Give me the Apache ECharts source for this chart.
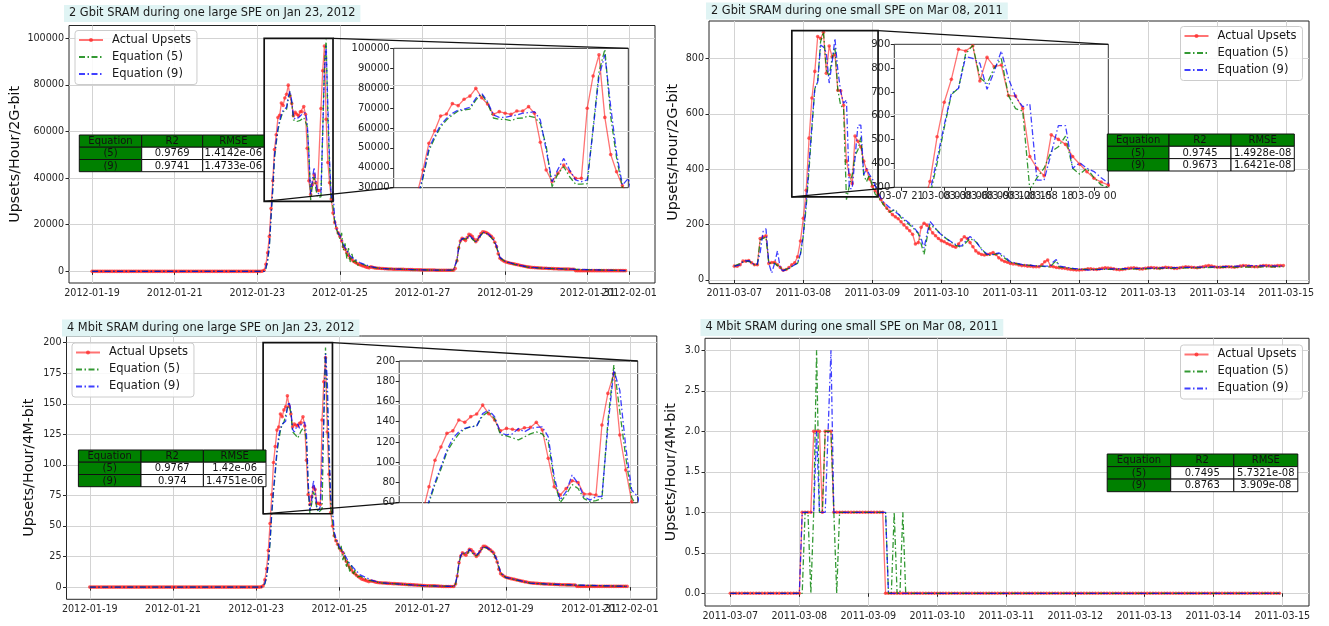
<!DOCTYPE html>
<html>
<head>
<meta charset="utf-8">
<script src="https://cdn.jsdelivr.net/npm/echarts@6/dist/echarts.min.js"></script>
<style>
html, body { margin: 0; padding: 0; background: #fff; }
#main { width: 1329px; height: 626px; }
</style>
</head>
<body>
<div id="main"></div>
<script>
// ---------------- data (hourly readings) ----------------
const janStart = '2012-01-19T00:00';
const marStart = '2011-03-07T00:00';

const janTicks = ['2012-01-19', '2012-01-21', '2012-01-23', '2012-01-25', '2012-01-27', '2012-01-29', '2012-01-31', '2012-02-01'];
const marTicks = ['2011-03-07', '2011-03-08', '2011-03-09', '2011-03-10', '2011-03-11', '2011-03-12', '2011-03-13', '2011-03-14', '2011-03-15'];
const marZoomTicks = ['2011-03-07T21:00', '2011-03-08T00:00', '2011-03-08T03:00', '2011-03-08T06:00', '2011-03-08T09:00',
  '2011-03-08T12:00', '2011-03-08T15:00', '2011-03-08T18:00', '2011-03-08T21:00', '2011-03-09T00:00'];
const gbitJanYTicks = [0, 20000, 40000, 60000, 80000, 100000];
const mbitJanYTicks = [0, 25, 50, 75, 100, 125, 150, 175, 200];
const gbitMarYTicks = [0, 200, 400, 600, 800];
const mbitMarYTicks = [0, 0.5, 1, 1.5, 2, 2.5, 3];

// 2 Gbit, Jan 2012 (one value per hour from 01-19 00:00)
const gbitJanActual = [
  0,0,0,0,0,0,0,0,0,0,0,0,0,0,0,0,0,0,0,0,0,0,0,0,
  0,0,0,0,0,0,0,0,0,0,0,0,0,0,0,0,0,0,0,0,0,0,0,0,
  0,0,0,0,0,0,0,0,0,0,0,0,0,0,0,0,0,0,0,0,0,0,0,0,
  0,0,0,0,0,0,0,0,0,0,0,0,0,0,0,0,0,0,0,0,0,0,0,0,
  0,0,0,100,500,3000,8000,15000,27000,38900,52300,58600,66000,67000,72200,71200,74400,76000,79900,75200,72000,66800,68200,67400,
  66800,68500,68500,70700,67400,52800,38900,33000,37200,41400,38000,34700,34700,69900,86100,96700,65300,46700,38000,31000,25000,21000,18500,16500,
  15000,13000,10600,9500,8000,6800,5600,5000,4300,3800,3400,3000,2700,2400,2200,1900,1700,1500,1900,1700,1500,1400,1300,1300,
  1200,1200,1100,1100,1000,1000,1000,900,900,900,900,900,850,850,800,800,800,750,750,700,700,700,650,650,
  600,600,600,550,550,550,550,550,500,500,500,500,500,500,500,500,500,500,500,1200,4500,10000,13000,14200,
  13800,13200,14500,15900,15600,14900,13800,12700,13600,14900,16200,17000,16900,16700,16200,15600,15000,14200,12500,10600,7500,5600,5000,4500,
  4100,3900,3700,3500,3400,3200,3000,2900,2700,2500,2400,2200,2100,1900,1800,1700,1650,1600,1550,1500,1450,1400,1350,1300,
  1300,1250,1200,1200,1150,1100,1100,1050,1000,1000,1000,950,950,950,900,900,900,300,300,300,300,300,300,300,
  300,300,300,300,300,300,300,300,300,300,300,300,300,300,300,300,300,300,300,300,300,300,300
];
// [hour from start, value]
const gbitJanEq5 = [[0,0],[100,0],[101,1200],[102,4500],[103,10500],[104,23000],[105,35000],[106,48500],[107,55000],[108,60500],[109,64000],[110,66500],[111,68500],[112,69000],[113,69500],[114,74000],[115,77000],[116,72500],[117,65000],[118,64300],[119,64300],[120,63700],[121,64800],[122,65000],[123,66000],[124,65300],[125,62300],[126,51000],[127,30500],[128,37000],[129,40500],[130,35500],[131,31800],[132,31800],[133,32000],[134,60000],[135,88000],[136,99500],[137,65700],[138,45000],[139,30000],[140,28000],[141,21000],[142,18000],[143,16000],[144,14000],[145,16500],[146,9000],[147,12000],[148,5500],[149,10000],[150,4000],[151,7500],[152,3500],[153,5000],[154,2500],[156,3400],[162,1800],[168,1200],[192,600],[210,500],[211,1000],[212,4500],[213,9500],[214,12800],[215,13800],[216,13200],[218,14000],[219,15200],[221,13800],[223,12500],[225,14500],[227,16500],[229,16300],[231,15200],[233,13600],[235,10500],[237,5800],[240,4200],[246,2900],[254,1700],[264,1250],[280,850],[281,300],[310,300]];
const gbitJanEq9 = [[0,0],[100,0],[101,1500],[102,5000],[103,11000],[104,24000],[105,36000],[106,49800],[107,56000],[108,61500],[109,64800],[110,67400],[111,69000],[112,69400],[113,70400],[114,74900],[115,77400],[116,73200],[117,66500],[118,65300],[119,65300],[120,66000],[121,66500],[122,67400],[123,67700],[124,68200],[125,64000],[126,48900],[127,33000],[128,39200],[129,44700],[130,38900],[131,33900],[132,33000],[133,33900],[134,59000],[135,85800],[136,96700],[137,70700],[138,47300],[139,31300],[140,34700],[141,22000],[142,18500],[143,16500],[144,15500],[146,11500],[150,6500],[156,3600],[162,2000],[168,1200],[192,600],[210,500],[211,1200],[212,5000],[213,10000],[214,13000],[215,14000],[216,13500],[218,14300],[219,15500],[221,14200],[223,12800],[225,14800],[227,16800],[229,16500],[231,15500],[233,14000],[235,11000],[237,6000],[240,4300],[246,3000],[254,1800],[264,1300],[280,900],[281,300],[310,300]];

// 4 Mbit, Jan 2012
const mbitJanActual = [
  0,0,0,0,0,0,0,0,0,0,0,0,0,0,0,0,0,0,0,0,0,0,0,0,
  0,0,0,0,0,0,0,0,0,0,0,0,0,0,0,0,0,0,0,0,0,0,0,0,
  0,0,0,0,0,0,0,0,0,0,0,0,0,0,0,0,0,0,0,0,0,0,0,0,
  0,0,0,0,0,0,0,0,0,0,0,0,0,0,0,0,0,0,0,0,0,0,0,0,
  0,0,0,0.2,1,6,15,30,52,75.8,102,115,128.5,131,141.7,139.4,145,147.6,156.5,148,141.7,131,133.4,132.5,
  131.8,134,134.4,139.4,131.8,103.8,75.8,67.6,74,81.7,79.8,68.6,68.6,67.6,136.7,168,187.8,126.9,92.3,61,50,42,38,35,
  32,30,28,24,21,18,16,14,12,11,9.5,8.5,7.5,6.5,6,5.5,5,4.5,5,4.8,4.5,4,3.8,3.6,
  3.5,3.4,3.3,3.2,3,3,2.9,2.8,2.8,2.7,2.6,2.5,2.4,2.3,2.2,2.1,2,2,1.9,1.8,1.7,1.6,1.5,1.4,
  1.3,1.2,1.1,1.1,1,1,1,1,0.9,0.8,0.7,0.6,0.5,0.5,0.5,0.5,0.5,0.5,0.5,2.5,9,20,25.5,28,
  27,26,28.5,31,30.5,29,27,25,26.5,29,31.5,33.3,33.4,32.6,31.5,30.5,29.3,27.8,24.5,20.5,14.5,11,9.8,8.8,
  8,7.6,7.2,6.9,6.6,6.3,5.9,5.6,5.3,4.9,4.7,4.3,4.1,3.7,3.5,3.3,3.2,3.1,3,2.9,2.8,2.7,2.6,2.5,
  2.5,2.4,2.3,2.3,2.2,2.1,2.1,2,1.9,1.9,1.9,1.8,1.8,1.8,1.7,1.7,1.7,0.6,0.6,0.6,0.6,0.6,0.6,0.6,
  0.6,0.6,0.6,0.6,0.6,0.6,0.6,0.6,0.6,0.6,0.6,0.6,0.6,0.6,0.6,0.6,0.6,0.6,0.6,0.6,0.6,0.6,0.6
];
const mbitJanEq5 = [[0,0],[99,0],[100,0.4],[101,2.5],[102,8],[103,19],[104,36],[105,60],[106,78],[107,93],[108,110],[109,120],[110,128],[111,133],[112,135],[113,136],[114,146],[115,150],[116,143],[117,127],[118,126],[119,124],[120,122],[121,125],[122,128],[123,130],[124,128],[125,120],[126,82],[127,60],[128,68],[129,78],[130,74],[131,64],[132,61],[133,62],[134,64],[135,140],[136,196],[137,150],[138,105],[139,65],[140,55],[141,42],[142,38],[143,36],[144,30],[145,34],[146,22],[147,28],[148,16],[149,22],[150,12],[151,18],[152,10],[153,14],[154,8],[156,9],[160,6],[168,3.4],[192,1.2],[210,0.5],[211,2.5],[212,9],[213,19],[214,25.5],[215,27.5],[216,27],[218,27.5],[219,30.5],[221,27.5],[223,25.5],[225,28.5],[227,32.5],[229,32],[231,30],[233,27.5],[235,21],[237,11.5],[240,7.8],[246,5.8],[254,3.2],[264,2.4],[280,1.6],[281,0.6],[310,0.6]];
const mbitJanEq9 = [[0,0],[99,0],[100,0.5],[101,3],[102,9],[103,20],[104,38],[105,62],[106,80],[107,95.6],[108,112],[109,123.6],[110,130],[111,133.4],[112,135],[113,135.8],[114,148],[115,151.6],[116,145],[117,129],[118,127],[119,128],[120,133.4],[121,130],[122,133.4],[123,134.4],[124,135],[125,125],[126,85.7],[127,62.6],[128,70.9],[129,87.3],[130,79],[131,66],[132,62.6],[133,66],[134,66],[135,135],[136,191],[137,171],[138,115],[139,72.5],[140,66],[141,45],[142,40],[143,37],[144,33],[146,29],[150,19],[156,10],[162,6],[168,3.5],[192,1.2],[210,0.5],[211,3],[212,10],[213,20],[214,26],[215,28],[216,27.5],[218,28],[219,31],[221,28],[223,26],[225,29],[227,33],[229,32.5],[231,30.5],[233,28],[235,22],[237,12],[240,8],[246,6],[254,3.3],[264,2.5],[280,1.7],[281,0.6],[310,0.6]];

// 2 Gbit, Mar 2011 (one value per hour from 03-07 00:00)
const gbitMarActual = [
  50,50,55,68,68,70,62,55,55,150,155,160,60,63,64,55,45,35,38,45,55,62,84,141,
  223,324,512,657,753,879,872,894,746,845,806,813,685,683,631,429,380,348,520,501,480,429,397,365,
  338,322,310,290,275,260,248,236,228,221,210,199,188,178,165,130,135,190,205,198,185,170,160,150,
  142,138,132,127,122,118,130,145,156,150,135,120,105,97,92,90,92,95,99,92,80,72,67,64,
  60,58,58,54,52,52,50,50,48,48,48,55,66,72,50,48,45,44,43,42,40,38,37,36,
  36,37,38,40,40,39,38,40,42,44,43,42,40,38,37,38,40,42,43,44,42,40,40,42,
  44,45,44,43,42,44,46,45,44,42,42,44,46,48,47,46,45,44,46,48,50,52,50,48,
  46,46,47,48,48,47,46,48,50,52,51,50,49,48,48,50,52,52,51,50,50,52,52,52
];
const gbitMarEq5 = [[0,50],[3,65],[5,68],[7,55],[8,55],[9,145],[10,150],[11,155],[12,60],[13,62],[14,60],[16,45],[17,35],[19,42],[21,55],[22,60],[23,92],[24,160],[25,265],[26,400],[27,550],[28,690],[29,715],[30,860],[31,895],[32,760],[33,735],[34,800],[35,840],[36,685],[37,630],[38,620],[39,290],[40,340],[41,380],[42,450],[43,470],[44,515],[45,380],[46,355],[47,380],[48,340],[49,310],[50,300],[52,270],[54,245],[56,255],[58,225],[62,190],[64,168],[65,130],[66,92],[67,150],[68,200],[70,185],[73,155],[77,125],[79,118],[82,150],[84,138],[88,88],[92,95],[96,64],[100,55],[110,47],[111,60],[112,70],[113,47],[120,38],[130,38],[150,42],[170,46],[191,48]];
const gbitMarEq9 = [[0,50],[2,55],[3,68],[5,70],[7,55],[8,58],[9,100],[10,175],[11,185],[12,60],[13,25],[14,60],[15,105],[16,40],[17,33],[19,42],[21,55],[22,62],[23,95],[24,165],[25,280],[26,420],[27,561],[28,694],[29,715],[30,848],[31,841],[32,820],[33,711],[34,785],[35,872],[36,757],[37,680],[38,638],[39,650],[40,330],[41,330],[42,443],[43,559],[44,559],[45,380],[46,403],[47,380],[48,366],[49,340],[50,317],[51,295],[52,280],[54,262],[58,230],[62,195],[64,170],[65,150],[66,115],[67,165],[68,212],[69,200],[71,172],[74,148],[77,128],[79,122],[80,135],[82,157],[84,140],[86,110],[88,93],[90,92],[92,98],[94,85],[96,66],[100,56],[106,50],[110,50],[111,66],[112,74],[113,50],[118,42],[123,36],[130,40],[140,42],[150,44],[160,46],[170,48],[180,52],[191,50]];

// 4 Mbit, Mar 2011
const mbitMarActual = [
  0,0,0,0,0,0,0,0,0,0,0,0,0,0,0,0,0,0,0,0,0,0,0,0,
  0,1,1,1,1,2,2,2,1,2,2,2,1,1,1,1,1,1,1,1,1,1,1,1,
  1,1,1,1,1,1,0,0,0,0,0,0,0,0,0,0,0,0,0,0,0,0,0,0,
  0,0,0,0,0,0,0,0,0,0,0,0,0,0,0,0,0,0,0,0,0,0,0,0,
  0,0,0,0,0,0,0,0,0,0,0,0,0,0,0,0,0,0,0,0,0,0,0,0,
  0,0,0,0,0,0,0,0,0,0,0,0,0,0,0,0,0,0,0,0,0,0,0,0,
  0,0,0,0,0,0,0,0,0,0,0,0,0,0,0,0,0,0,0,0,0,0,0,0,
  0,0,0,0,0,0,0,0,0,0,0,0,0,0,0,0,0,0,0,0,0,0,0,0
];
const mbitMarEq5 = [[0,0],[25,0],[26,1],[27,1],[28,0],[29,1],[30,3],[31,1],[32,1],[33,2],[34,2],[35,2],[36,1],[37,0],[38,1],[53,1],[54,1],[55,0],[56,0],[57,1],[58,0],[59,0],[60,1],[61,0],[191,0]];
const mbitMarEq9 = [[0,0],[24,0],[25,1],[29,1],[30,2],[31,1],[33,1],[34,2],[35,3],[36,1],[54,1],[55,0],[191,0]];

// fit tables
const fitHeader = ['Equation', 'R2', 'RMSE'];
const gbitJanFit = [['(5)', '0.9769', '1.4142e-06'], ['(9)', '0.9741', '1.4733e-06']];
const gbitMarFit = [['(5)', '0.9745', '1.4928e-08'], ['(9)', '0.9673', '1.6421e-08']];
const mbitJanFit = [['(5)', '0.9767', '1.42e-06'], ['(9)', '0.974', '1.4751e-06']];
const mbitMarFit = [['(5)', '0.7495', '5.7321e-08'], ['(9)', '0.8763', '3.909e-08']];

// ---------------- helpers ----------------
const HOUR = 3600 * 1000;
const FONT = 'DejaVu Sans';
const INK = '#262626';
const GRID_C = '#d3d3d3';
const DASHDOT = [6, 2.5, 1.5, 2.5];
const ms = s => Date.parse((s.length === 10 ? s + 'T00:00' : s) + ':00Z');
const pad = n => (n < 10 ? '0' : '') + n;
const fmtDay = v => { const d = new Date(v); return d.getUTCFullYear() + '-' + pad(d.getUTCMonth() + 1) + '-' + pad(d.getUTCDate()); };
const fmtHour = v => { const d = new Date(v); return pad(d.getUTCMonth() + 1) + '-' + pad(d.getUTCDate()) + ' ' + pad(d.getUTCHours()); };
const hourly = (start, vals) => vals.map((v, i) => [ms(start) + i * HOUR, v]);
const keyed = (start, pts) => pts.map(p => [ms(start) + p[0] * HOUR, p[1]]);

// ---------------- panel layout ----------------
const panels = [
  {
    title: '2 Gbit SRAM during one large SPE on Jan 23, 2012', titlePos: [64, 5],
    yName: 'Upsets/Hour/2G-bit', nameGap: 47,
    grid: { left: 69, top: 25.5, width: 586, height: 257.5 },
    xRange: ['2012-01-18T10:35', '2012-02-01T15:06'], xTicks: janTicks,
    yRange: [-5000, 105500], yTicks: gbitJanYTicks, yFmt: v => String(v),
    start: janStart, actual: gbitJanActual, eq5: gbitJanEq5, eq9: gbitJanEq9,
    inset: { grid: { left: 393.7, top: 48.3, width: 234.6, height: 139.4 },
      xRange: ['2012-01-23T04:00', '2012-01-24T20:00'], yRange: [30000, 100000], step: 10000 },
    legendPos: [75, 30.5],
    table: { cols: [79.3, 141.7, 202.7, 264], rows: [135, 147.2, 159.5, 171.7] }, fit: gbitJanFit
  },
  {
    title: '2 Gbit SRAM during one small SPE on Mar 08, 2011', titlePos: [706, 2.5],
    yName: 'Upsets/Hour/2G-bit', nameGap: 29,
    grid: { left: 709, top: 21, width: 600, height: 262.6 },
    xRange: ['2011-03-06T15:11', '2011-03-15T07:55'], xTicks: marTicks,
    yRange: [-13, 935], yTicks: gbitMarYTicks, yFmt: v => String(v),
    start: marStart, actual: gbitMarActual, eq5: gbitMarEq5, eq9: gbitMarEq9,
    inset: { grid: { left: 894.3, top: 44.3, width: 214, height: 143 },
      xRange: ['2011-03-07T20:00', '2011-03-09T02:00'], yRange: [300, 900], step: 100, xTicks: marZoomTicks },
    legendPos: [1180.5, 26.5],
    table: { cols: [1107.3, 1169, 1231, 1294.3], rows: [134, 146.3, 158.6, 171] }, fit: gbitMarFit
  },
  {
    title: '4 Mbit SRAM during one large SPE on Jan 23, 2012', titlePos: [62, 319.5],
    yName: 'Upsets/Hour/4M-bit', nameGap: 30,
    grid: { left: 66.5, top: 336, width: 590.3, height: 263.3 },
    xRange: ['2012-01-18T10:35', '2012-02-01T15:06'], xTicks: janTicks,
    yRange: [-10, 205.5], yTicks: mbitJanYTicks, yFmt: v => String(v),
    start: janStart, actual: mbitJanActual, eq5: mbitJanEq5, eq9: mbitJanEq9,
    inset: { grid: { left: 399.2, top: 361, width: 238.5, height: 141.7 },
      xRange: ['2012-01-23T04:00', '2012-01-24T20:00'], yRange: [60, 200], step: 20 },
    legendPos: [72, 343],
    table: { cols: [78.4, 141, 203.4, 266], rows: [450, 462.2, 474.5, 486.7] }, fit: mbitJanFit
  },
  {
    title: '4 Mbit SRAM during one small SPE on Mar 08, 2011', titlePos: [700.5, 319],
    yName: 'Upsets/Hour/4M-bit', nameGap: 27,
    grid: { left: 705, top: 338.3, width: 604, height: 267.7 },
    xRange: ['2011-03-06T15:11', '2011-03-15T09:17'], xTicks: marTicks,
    yRange: [-0.157, 3.148], yTicks: mbitMarYTicks, yFmt: v => v.toFixed(1),
    start: marStart, actual: mbitMarActual, eq5: mbitMarEq5, eq9: mbitMarEq9,
    inset: null,
    legendPos: [1180.5, 345],
    table: { cols: [1107.2, 1170.7, 1233.8, 1297.8], rows: [454, 466.6, 479.1, 491.7] }, fit: mbitMarFit
  }
];

// ---------------- option ----------------
const option = {
  animation: false,
  backgroundColor: '#fff',
  textStyle: { fontFamily: FONT },
  title: [], legend: [], grid: [], xAxis: [], yAxis: [], series: []
};

function addSeries(gi, p) {
  option.series.push({
    name: 'Actual Upsets', type: 'line', xAxisIndex: gi, yAxisIndex: gi, z: 2,
    data: hourly(p.start, p.actual), symbol: 'circle', symbolSize: 3.6,
    itemStyle: { color: 'rgba(255,40,40,0.75)' }, lineStyle: { color: 'rgba(255,0,0,0.55)', width: 1.3 }
  });
  option.series.push({
    name: 'Equation (5)', type: 'line', xAxisIndex: gi, yAxisIndex: gi, z: 3,
    data: keyed(p.start, p.eq5), symbol: 'none',
    itemStyle: { color: 'rgba(0,128,0,0.8)' }, lineStyle: { color: 'rgba(0,128,0,0.8)', width: 1.3, type: DASHDOT }
  });
  option.series.push({
    name: 'Equation (9)', type: 'line', xAxisIndex: gi, yAxisIndex: gi, z: 4,
    data: keyed(p.start, p.eq9), symbol: 'none',
    itemStyle: { color: 'rgba(0,0,255,0.75)' }, lineStyle: { color: 'rgba(0,0,255,0.75)', width: 1.3, type: DASHDOT }
  });
}

// last date label of each main axis sits on its own axis, so that ECharts does not drop
// it (or its neighbour) when the two overlap, as they do in the original
const lastLabelAxes = [];

panels.forEach(p => {
  option.title.push({
    text: p.title, left: p.titlePos[0], top: p.titlePos[1], padding: [3, 5, 3, 5],
    backgroundColor: '#e0f4f4',
    textStyle: { fontSize: 11.4, fontWeight: 'normal', color: '#1a1a1a', fontFamily: FONT }
  });
  option.legend.push({
    orient: 'vertical', left: p.legendPos[0], top: p.legendPos[1],
    data: [
      { name: 'Actual Upsets' },
      { name: 'Equation (5)', itemStyle: { opacity: 0 } },
      { name: 'Equation (9)', itemStyle: { opacity: 0 } }
    ],
    itemWidth: 24, itemHeight: 5, itemGap: 4, padding: [3, 6, 4, 3], selectedMode: false,
    backgroundColor: 'rgba(255,255,255,0.85)', borderColor: '#cccccc', borderWidth: 1, borderRadius: 3,
    textStyle: { fontSize: 11.5, color: '#1a1a1a', fontFamily: FONT, lineHeight: 13, padding: [0, 0, 0, 4] }
  });

  const m = option.grid.length;
  p.mainIndex = m;
  option.grid.push(Object.assign({ show: true, borderColor: INK, borderWidth: 1, backgroundColor: 'transparent' }, p.grid));
  const xt = p.xTicks.map(ms);
  const labelVals = xt.slice(0, -1);
  option.xAxis.push({
    type: 'value', gridIndex: m, position: 'bottom', min: ms(p.xRange[0]), max: ms(p.xRange[1]),
    axisLine: { show: false },
    axisTick: { show: true, length: 3.5, lineStyle: { color: INK }, customValues: xt },
    axisLabel: { customValues: labelVals, formatter: fmtDay, fontSize: 9.6, color: INK, margin: 5,
      hideOverlap: false, showMinLabel: true, showMaxLabel: true },
    splitLine: { show: true, lineStyle: { color: GRID_C, width: 1 } }
  });
  lastLabelAxes.push({
    type: 'value', gridIndex: m, position: 'bottom', offset: 0, min: ms(p.xRange[0]), max: ms(p.xRange[1]),
    axisLine: { show: false }, axisTick: { show: false }, splitLine: { show: false },
    axisLabel: { customValues: xt.slice(-1), formatter: fmtDay, fontSize: 9.6, color: INK, margin: 5,
      showMinLabel: true, showMaxLabel: true }
  });
  option.yAxis.push({
    type: 'value', gridIndex: m, min: p.yRange[0], max: p.yRange[1],
    name: p.yName, nameLocation: 'middle', nameGap: p.nameGap,
    nameTextStyle: { fontSize: 14.3, color: '#111', fontFamily: FONT },
    axisLine: { show: false },
    axisTick: { show: true, length: 3.5, lineStyle: { color: INK }, customValues: p.yTicks },
    axisLabel: { customValues: p.yTicks, formatter: p.yFmt, fontSize: 9.6, color: INK, margin: 5,
      showMinLabel: true, showMaxLabel: true },
    splitLine: { show: true, lineStyle: { color: GRID_C, width: 1 } }
  });
  addSeries(m, p);

  if (p.inset) {
    const n = option.grid.length;
    p.insetIndex = n;
    const ins = p.inset;
    option.grid.push(Object.assign({ show: true, borderColor: '#333', borderWidth: 1, backgroundColor: 'transparent' }, ins.grid));
    if (ins.xTicks) {
      const it = ins.xTicks.map(ms);
      option.xAxis.push({
        type: 'value', gridIndex: n, position: 'bottom', min: ms(ins.xRange[0]), max: ms(ins.xRange[1]),
        axisLine: { show: false },
        axisTick: { show: true, length: 3.5, lineStyle: { color: INK }, customValues: it },
        axisLabel: { customValues: it, formatter: fmtHour, fontSize: 10, color: INK, margin: 4,
          hideOverlap: false, showMinLabel: true, showMaxLabel: true },
        splitLine: { show: false }
      });
    } else {
      option.xAxis.push({ type: 'value', gridIndex: n, min: ms(ins.xRange[0]), max: ms(ins.xRange[1]), show: false });
    }
    option.yAxis.push({
      type: 'value', gridIndex: n, min: ins.yRange[0], max: ins.yRange[1], interval: ins.step,
      axisLine: { show: false },
      axisTick: { show: true, length: 3.5, lineStyle: { color: INK } },
      axisLabel: { formatter: v => String(v), fontSize: 10, color: INK, margin: 4, showMinLabel: true, showMaxLabel: true },
      splitLine: { show: false }
    });
    addSeries(n, p);
  }
});
option.xAxis = option.xAxis.concat(lastLabelAxes);

const chart = echarts.init(document.getElementById('main'));
chart.setOption(option);

// ---------------- tables, zoom box and connectors ----------------
const gfx = [];
panels.forEach(p => {
  const t = p.table;
  const rowsText = [fitHeader].concat(p.fit);
  for (let r = 0; r < 3; r++) {
    for (let c = 0; c < 3; c++) {
      const x = t.cols[c], y = t.rows[r], w = t.cols[c + 1] - x, h = t.rows[r + 1] - y;
      gfx.push({
        type: 'rect', z: 60, silent: true,
        shape: { x: x, y: y, width: w, height: h },
        style: { fill: (r === 0 || c === 0) ? '#008000' : '#ffffff', stroke: '#111', lineWidth: 1 }
      });
      gfx.push({
        type: 'text', z: 61, silent: true,
        style: { text: rowsText[r][c], x: x + w / 2, y: y + h / 2 + 0.5, align: 'center', verticalAlign: 'middle',
          fontSize: 10, fontFamily: FONT, fill: '#111' }
      });
    }
  }
  if (p.inset) {
    const ins = p.inset;
    const x0 = ms(ins.xRange[0]), x1 = ms(ins.xRange[1]);
    const y0 = ins.yRange[0], y1 = ins.yRange[1];
    const bl = chart.convertToPixel({ xAxisIndex: p.mainIndex, yAxisIndex: p.mainIndex }, [x0, y0]);
    const tr = chart.convertToPixel({ xAxisIndex: p.mainIndex, yAxisIndex: p.mainIndex }, [x1, y1]);
    const ibl = chart.convertToPixel({ xAxisIndex: p.insetIndex, yAxisIndex: p.insetIndex }, [x0, y0]);
    const itr = chart.convertToPixel({ xAxisIndex: p.insetIndex, yAxisIndex: p.insetIndex }, [x1, y1]);
    gfx.push({
      type: 'rect', z: 50, silent: true,
      shape: { x: bl[0], y: tr[1], width: tr[0] - bl[0], height: bl[1] - tr[1] },
      style: { fill: 'none', stroke: '#111', lineWidth: 1.7 }
    });
    gfx.push({ type: 'line', z: 50, silent: true, shape: { x1: tr[0], y1: tr[1], x2: itr[0], y2: itr[1] }, style: { stroke: '#111', lineWidth: 1.3 } });
    gfx.push({ type: 'line', z: 50, silent: true, shape: { x1: bl[0], y1: bl[1], x2: ibl[0], y2: ibl[1] }, style: { stroke: '#111', lineWidth: 1.3 } });
  }
});
chart.setOption({ graphic: gfx });
</script>
</body>
</html>
